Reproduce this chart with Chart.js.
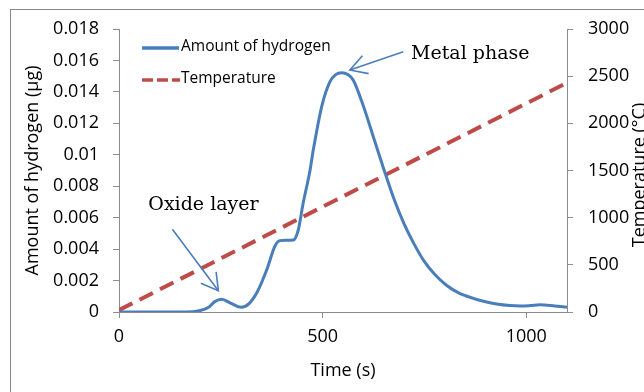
<!DOCTYPE html>
<html><head><meta charset="utf-8">
<script src="https://cdn.jsdelivr.net/npm/chart.js@4.4.0/dist/chart.umd.min.js"></script>
<style>
html,body{margin:0;padding:0;background:#fff;overflow:hidden}
#wrap{position:relative;width:644px;height:392px;overflow:hidden}
#frame{position:absolute;left:10px;top:9px;width:700px;height:500px;border:1.5px solid #888}
canvas{position:absolute;left:0;top:0}
</style></head><body>
<div id="wrap"><div id="frame"></div><canvas id="c" width="644" height="392"></canvas></div>
<script>
// ---- data ----
const hydrogenTime = [0, 100, 180, 200, 220, 235, 252, 275, 300, 320, 340, 363, 383, 395, 410, 428, 440, 452, 469, 477, 498, 518, 532, 547, 562, 575, 600, 625, 650, 675, 700, 725, 750, 775, 804, 835, 870, 900, 927, 960, 985, 1010, 1034, 1070, 1100];
const hydrogenAmount = [0, 0, 0.00002, 0.0001, 0.0003, 0.00066, 0.00081, 0.00055, 0.0003, 0.00055, 0.0013, 0.0027, 0.0042, 0.00454, 0.00456, 0.00458, 0.0052, 0.0069, 0.009, 0.0103, 0.0131, 0.01465, 0.0151, 0.01522, 0.0151, 0.01476, 0.0131, 0.0111, 0.0091, 0.0072, 0.0056, 0.0043, 0.0032, 0.0024, 0.0017, 0.0012, 0.00087, 0.00065, 0.00051, 0.00041, 0.00038, 0.00041, 0.00046, 0.00038, 0.0003];
const temperatureTime = [0, 1100];
const temperatureValue = [20, 2430];

const xTicks = [0, 500, 1000];
const xTickLabels = ['0', '500', '1000'];
const yTicks = [0, 0.002, 0.004, 0.006, 0.008, 0.01, 0.012, 0.014, 0.016, 0.018];
const yTickLabels = ['0', '0.002', '0.004', '0.006', '0.008', '0.01', '0.012', '0.014', '0.016', '0.018'];
const y2Ticks = [0, 500, 1000, 1500, 2000, 2500, 3000];
const y2TickLabels = ['0', '500', '1000', '1500', '2000', '2500', '3000'];

const seriesNames = ['Amount of hydrogen', 'Temperature'];
const xTitle = 'Time (s)';
const yTitle = 'Amount of hydrogen (µg)';
const y2Title = 'Temperature (°C)';

// annotations in data coordinates: [label, textTime, textValue, tailTime, tailValue, tipTime, tipValue]
const annotations = [
  ['Metal phase', 717, 0.01609, 698, 0.01656, 567, 0.01539],
  ['Oxide layer', 72, 0.00649, 131, 0.00526, 244, 0.00135]
];

// ---- style ----
const BLUE = '#4a7ebb', RED = '#be4b48', AX = '#8c8c8c';
const TICKFONT = {family: 'Open Sans', size: 18};

const toXY = (xs, ys) => xs.map((x, i) => ({x, y: ys[i]}));

const overlay = {
  id: 'overlay',
  afterDraw(chart) {
    const ctx = chart.ctx;
    const xs = chart.scales.x, ys = chart.scales.y;
    ctx.save();
    // legend
    ctx.lineWidth = 3.5;
    ctx.strokeStyle = BLUE;
    ctx.beginPath(); ctx.moveTo(142, 48); ctx.lineTo(179, 48); ctx.stroke();
    ctx.strokeStyle = RED;
    ctx.setLineDash([11, 4]);
    ctx.beginPath(); ctx.moveTo(142, 80); ctx.lineTo(180, 80); ctx.stroke();
    ctx.setLineDash([]);
    ctx.fillStyle = '#000';
    ctx.font = '15.5px "Open Sans"';
    ctx.textBaseline = 'middle';
    ctx.textAlign = 'left';
    ctx.fillText(seriesNames[0], 181, 47);
    ctx.fillText(seriesNames[1], 181, 79);
    // annotations
    ctx.font = '19px "DejaVu Serif"';
    ctx.textBaseline = 'alphabetic';
    annotations.forEach(a => {
      const tx = xs.getPixelForValue(a[1]), ty = ys.getPixelForValue(a[2]);
      ctx.fillStyle = '#000';
      ctx.fillText(a[0], tx, ty);
      const x0 = xs.getPixelForValue(a[3]), y0 = ys.getPixelForValue(a[4]);
      const x1 = xs.getPixelForValue(a[5]), y1 = ys.getPixelForValue(a[6]);
      ctx.strokeStyle = BLUE;
      ctx.lineWidth = 1.6;
      ctx.beginPath(); ctx.moveTo(x0, y0); ctx.lineTo(x1, y1); ctx.stroke();
      const ang = Math.atan2(y0 - y1, x0 - x1);
      const L = 19, s = Math.PI / 6;
      ctx.beginPath();
      ctx.moveTo(x1 + L * Math.cos(ang - s), y1 + L * Math.sin(ang - s));
      ctx.lineTo(x1, y1);
      ctx.lineTo(x1 + L * Math.cos(ang + s), y1 + L * Math.sin(ang + s));
      ctx.stroke();
    });
    // right axis title (reads bottom to top)
    const ca = chart.chartArea;
    ctx.fillStyle = '#000';
    ctx.font = '18px "Open Sans"';
    ctx.translate(645, (ca.top + ca.bottom) / 2 + 4.5);
    ctx.rotate(-Math.PI / 2);
    ctx.textAlign = 'center';
    ctx.textBaseline = 'alphabetic';
    ctx.fillText(y2Title, 0, 0);
    ctx.restore();
  }
};

new Chart(document.getElementById('c'), {
  type: 'line',
  data: {
    datasets: [
      {label: seriesNames[0], data: toXY(hydrogenTime, hydrogenAmount), yAxisID: 'y',
       borderColor: BLUE, borderWidth: 3, pointRadius: 0, cubicInterpolationMode: 'monotone', fill: false},
      {label: seriesNames[1], data: toXY(temperatureTime, temperatureValue), yAxisID: 'y2',
       borderColor: RED, borderWidth: 4, borderDash: [15, 8], pointRadius: 0, fill: false, borderCapStyle: 'butt'}
    ]
  },
  options: {
    responsive: false, animation: false, devicePixelRatio: 1,
    layout: {padding: {top: 29, left: 0, right: 0, bottom: 0}},
    plugins: {legend: {display: false}, tooltip: {enabled: false}},
    scales: {
      x: {
        type: 'linear', position: 'bottom', min: 0, max: 1100,
        afterBuildTicks: s => { s.ticks = xTicks.map(v => ({value: v})); },
        afterFit: s => { s.height = 80; },
        grid: {drawOnChartArea: false, drawTicks: true, tickLength: 6, color: AX},
        border: {color: AX, width: 1},
        ticks: {font: TICKFONT, color: '#000', padding: 8, maxRotation: 0,
                callback: (v, i) => xTickLabels[i]},
        title: {display: true, text: xTitle, font: TICKFONT, color: '#000', padding: {top: 0, bottom: 10}}
      },
      y: {
        type: 'linear', position: 'left', min: 0, max: 0.018,
        afterBuildTicks: s => { s.ticks = yTicks.map(v => ({value: v})); },
        afterFit: s => { s.width = 119; },
        grid: {drawOnChartArea: false, drawTicks: true, tickLength: 6, color: AX},
        border: {color: AX, width: 1},
        ticks: {font: TICKFONT, color: '#000', padding: 14, callback: (v, i) => yTickLabels[i]},
        title: {display: true, text: yTitle, font: TICKFONT, color: '#000', padding: {top: 22, bottom: 0}}
      },
      y2: {
        type: 'linear', position: 'right', min: 0, max: 3000,
        afterBuildTicks: s => { s.ticks = y2Ticks.map(v => ({value: v})); },
        afterFit: s => { s.width = 77; },
        grid: {drawOnChartArea: false, drawTicks: true, tickLength: 6, color: AX},
        border: {color: AX, width: 1},
        ticks: {font: TICKFONT, color: '#000', padding: 15, callback: (v, i) => y2TickLabels[i]}
      }
    }
  },
  plugins: [overlay]
});
</script>
</body></html>
